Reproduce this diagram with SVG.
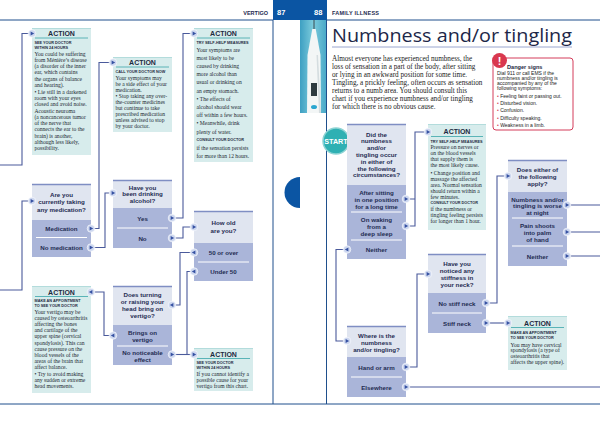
<svg xmlns="http://www.w3.org/2000/svg" width="600" height="427" viewBox="0 0 600 427">
<defs>
<style>
.fr{stroke:#1f4f8c;stroke-width:1;fill:none}
.qh{fill:#e0e5f0}
.op{fill:#aab5d9}
.tb{stroke:#7f8ec3;stroke-width:1.5}
.sp{stroke:#fff;stroke-width:1}
.ab{fill:#d7ecec}
.at{stroke:#b3dcdc;stroke-width:1}
.ul{stroke:#3aa6a9;stroke-width:0.8}
.q{font:bold 6.2px "Liberation Sans",Arial,sans-serif;fill:#1f2c52;text-anchor:middle;dominant-baseline:central}
.ac{font:bold 7px "Liberation Sans",Arial,sans-serif;fill:#1d2a3f;text-anchor:middle;dominant-baseline:central}
.h{font:bold 3.8px "Liberation Sans",Arial,sans-serif;fill:#1d2a3f;dominant-baseline:central}
.b{font:5.6px "Liberation Serif","Times New Roman",serif;fill:#1d2a33;dominant-baseline:central}
.c{fill:none;stroke:#4a5a9b;stroke-width:1.1}
.hd{font:bold 5.5px "Liberation Sans",Arial,sans-serif;fill:#1d2a4f;dominant-baseline:central}
.pn{font:bold 7.5px "Liberation Sans",Arial,sans-serif;fill:#fff;dominant-baseline:central}
.in{font:7.2px "Liberation Serif","Times New Roman",serif;fill:#222}
.dg{font:5px "Liberation Sans",Arial,sans-serif;fill:#222;dominant-baseline:central}
</style>
<linearGradient id="ph" x1="0" y1="0" x2="1" y2="0"><stop offset="0" stop-color="#3d9fc2"/><stop offset="0.5" stop-color="#7ccbdc"/><stop offset="1" stop-color="#4aa9c8"/></linearGradient>
<g id="ar"><circle r="3.8" fill="#cdd7ef" stroke="#fff" stroke-width="0.6"/><path d="M-1.4-2L2.2 0L-1.4 2Z" fill="#3551a2"/></g>
<g id="al"><circle r="3.8" fill="#cdd7ef" stroke="#fff" stroke-width="0.6"/><path d="M1.4-2L-2.2 0L1.4 2Z" fill="#3551a2"/></g>
</defs>
<rect width="600" height="427" fill="#fff"/>

<g id="page-frame">
<line class="fr" x1="0" y1="20" x2="273" y2="20"/>
<line class="fr" x1="327" y1="20" x2="600" y2="20"/>
<rect x="273" y="0" width="54" height="20" fill="#0b55a3"/>
<line class="fr" x1="273" y1="20" x2="273" y2="404"/>
<line class="fr" x1="326.5" y1="20" x2="326.5" y2="404"/>
<line class="fr" x1="0" y1="404" x2="600" y2="404"/>
<path d="M300 177A15.5 15.5 0 0 0 300 208Z" fill="#0b55a3"/>
<text class="hd" x="268" y="13" text-anchor="end">VERTIGO</text>
<text class="pn" x="277" y="12.5">87</text>
<text class="pn" x="314" y="12.5">88</text>
<text class="hd" x="332" y="13" letter-spacing="0.2">FAMILY ILLNESS</text>
</g>

<g id="photo">
<rect x="300" y="20" width="26" height="93" fill="url(#ph)"/>
<line x1="314" y1="20" x2="314" y2="30" stroke="#3a4a50" stroke-width="1"/>
<path d="M312.3 29L315.7 29L320.5 55L321 113L307 113L307.5 55Z" fill="#f3f6f6"/>
<path d="M318 55L321 113L319 113L316.5 55Z" fill="#d5dde0"/>
<rect x="311" y="83" width="6" height="13" fill="#2e3b40"/>
<ellipse cx="314" cy="107" rx="3" ry="2" fill="#2aa6d0"/>
</g>

<g id="intro">
<text x="332" y="42" font-family="'Open Sans','Noto Sans',sans-serif" font-size="17.5" fill="#1d2748" textLength="240" lengthAdjust="spacingAndGlyphs">Numbness and/or tingling</text>
<line x1="332" y1="47" x2="572" y2="47" stroke="#9aa6cf" stroke-width="1"/>
<text class="in"><tspan x="332" y="60.5">Almost everyone has experienced numbness, the</tspan><tspan x="332" y="68.5">loss of sensation in a part of the body, after sitting</tspan><tspan x="332" y="76.5">or lying in an awkward position for some time.</tspan><tspan x="332" y="84.5">Tingling, a prickly feeling, often occurs as sensation</tspan><tspan x="332" y="92.5">returns to a numb area. You should consult this</tspan><tspan x="332" y="100.5">chart if you experience numbness and/or tingling</tspan><tspan x="332" y="108.5">for which there is no obvious cause.</tspan></text>
</g>

<g id="danger-signs">
<rect x="493" y="58" width="80" height="72" rx="3" fill="#fff" stroke="#d43c5a" stroke-width="1"/>
<circle cx="499.5" cy="60.5" r="7.5" fill="#d9384f"/>
<text x="499.5" y="64.5" font-family="'Liberation Sans',Arial,sans-serif" font-weight="bold" font-size="11" fill="#fff" text-anchor="middle">!</text>
<text x="507" y="66.5" font-family="'Liberation Sans',Arial,sans-serif" font-weight="bold" font-size="5.6" fill="#1d2a3f" dominant-baseline="central">Danger signs</text>
<text class="dg"><tspan x="497" y="72.5">Dial 911 or call EMS if the</tspan><tspan x="497" y="77.5">numbness and/or tingling is</tspan><tspan x="497" y="82.5">accompanied by any of the</tspan><tspan x="497" y="87.5">following symptoms:</tspan><tspan x="497" y="96"><tspan fill="#d43c5a">•</tspan> Feeling faint or passing out.</tspan><tspan x="497" y="103.2"><tspan fill="#d43c5a">•</tspan> Disturbed vision.</tspan><tspan x="497" y="110.4"><tspan fill="#d43c5a">•</tspan> Confusion.</tspan><tspan x="497" y="117.6"><tspan fill="#d43c5a">•</tspan> Difficulty speaking.</tspan><tspan x="497" y="124.8"><tspan fill="#d43c5a">•</tspan> Weakness in a limb.</tspan></text>
</g>

<!-- LEFT PAGE -->
<g id="action-meniere">
<rect class="ab" x="32" y="28" width="59" height="127"/>
<line class="at" x1="32" y1="28.5" x2="91" y2="28.5"/>
<text class="ac" x="61.5" y="33.5">ACTION</text>
<line class="ul" x1="35" y1="38" x2="88" y2="38"/>
<text class="h"><tspan x="34.5" y="42.7">SEE YOUR DOCTOR</tspan><tspan x="34.5" y="47.5">WITHIN 24 HOURS</tspan></text>
<text class="b"><tspan x="34.5" y="53.5">You could be suffering</tspan><tspan x="34.5" y="59.8">from Ménière’s disease</tspan><tspan x="34.5" y="66.1">(a disorder of the inner</tspan><tspan x="34.5" y="72.4">ear, which contains</tspan><tspan x="34.5" y="78.7">the organs of balance</tspan><tspan x="34.5" y="85">and hearing).</tspan><tspan x="34.5" y="91.5">• Lie still in a darkened</tspan><tspan x="34.5" y="97.8">room with your eyes</tspan><tspan x="34.5" y="104.1">closed and avoid noise.</tspan><tspan x="34.5" y="110.5">Acoustic neuroma</tspan><tspan x="34.5" y="116.8">(a noncancerous tumor</tspan><tspan x="34.5" y="123.1">of the nerve that</tspan><tspan x="34.5" y="129.4">connects the ear to the</tspan><tspan x="34.5" y="135.7">brain) is another,</tspan><tspan x="34.5" y="142">although less likely,</tspan><tspan x="34.5" y="148.3">possibility.</tspan></text>
</g>

<g id="q-medication">
<rect class="qh" x="32" y="184" width="59" height="36"/>
<rect class="op" x="32" y="220" width="59" height="37"/>
<line class="tb" x1="32" y1="184.5" x2="91" y2="184.5"/>
<line class="sp" x1="36" y1="237.5" x2="87" y2="237.5"/>
<text class="q"><tspan x="61.5" y="193.5">Are you</tspan><tspan x="61.5" y="201">currently taking</tspan><tspan x="61.5" y="208.5">any medication?</tspan></text>
<text class="q" x="61.5" y="228.5">Medication</text>
<text class="q" x="61.5" y="247.5">No medication</text>
</g>

<g id="action-cervical-left">
<rect class="ab" x="32" y="286" width="59" height="107"/>
<line class="at" x1="32" y1="286.5" x2="91" y2="286.5"/>
<text class="ac" x="61.5" y="292">ACTION</text>
<line class="ul" x1="35" y1="296.5" x2="88" y2="296.5"/>
<text class="h"><tspan x="34.5" y="301">MAKE AN APPOINTMENT</tspan><tspan x="34.5" y="306">TO SEE YOUR DOCTOR</tspan></text>
<text class="b"><tspan x="34.5" y="312">Your vertigo may be</tspan><tspan x="34.5" y="318.1">caused by osteoarthritis</tspan><tspan x="34.5" y="324.2">affecting the bones</tspan><tspan x="34.5" y="330.3">and cartilage of the</tspan><tspan x="34.5" y="336.4">upper spine (cervical</tspan><tspan x="34.5" y="342.5">spondylosis). This can</tspan><tspan x="34.5" y="348.6">cause pressure on the</tspan><tspan x="34.5" y="354.7">blood vessels of the</tspan><tspan x="34.5" y="360.8">areas of the brain that</tspan><tspan x="34.5" y="366.9">affect balance.</tspan><tspan x="34.5" y="373.5">• Try to avoid making</tspan><tspan x="34.5" y="379.6">any sudden or extreme</tspan><tspan x="34.5" y="385.7">head movements.</tspan></text>
</g>

<g id="action-medication">
<rect class="ab" x="113" y="57" width="59" height="75"/>
<line class="at" x1="113" y1="57.5" x2="172" y2="57.5"/>
<text class="ac" x="142.5" y="62.5">ACTION</text>
<line class="ul" x1="116" y1="67" x2="169" y2="67"/>
<text class="h"><tspan x="115.5" y="72">CALL YOUR DOCTOR NOW</tspan></text>
<text class="b"><tspan x="115.5" y="78">Your symptoms may</tspan><tspan x="115.5" y="83.9">be a side effect of your</tspan><tspan x="115.5" y="89.8">medication.</tspan><tspan x="115.5" y="96.2">• Stop taking any over-</tspan><tspan x="115.5" y="102.1">the-counter medicines</tspan><tspan x="115.5" y="108">but continue to take</tspan><tspan x="115.5" y="113.9">prescribed medication</tspan><tspan x="115.5" y="119.8">unless advised to stop</tspan><tspan x="115.5" y="125.7">by your doctor.</tspan></text>
</g>

<g id="q-alcohol">
<rect class="qh" x="113" y="180" width="59" height="28"/>
<rect class="op" x="113" y="208" width="59" height="40"/>
<line class="tb" x1="113" y1="180.5" x2="172" y2="180.5"/>
<line class="sp" x1="117" y1="228" x2="168" y2="228"/>
<text class="q"><tspan x="142.5" y="186.5">Have you</tspan><tspan x="142.5" y="193">been drinking</tspan><tspan x="142.5" y="199.5">alcohol?</tspan></text>
<text class="q" x="142.5" y="218">Yes</text>
<text class="q" x="142.5" y="238">No</text>
</g>

<g id="q-head">
<rect class="qh" x="113" y="286" width="59" height="39"/>
<rect class="op" x="113" y="325" width="59" height="40"/>
<line class="tb" x1="113" y1="286.5" x2="172" y2="286.5"/>
<line class="sp" x1="117" y1="346" x2="168" y2="346"/>
<text class="q"><tspan x="142.5" y="294">Does turning</tspan><tspan x="142.5" y="301">or raising your</tspan><tspan x="142.5" y="308">head bring on</tspan><tspan x="142.5" y="315">vertigo?</tspan></text>
<text class="q"><tspan x="142.5" y="332">Brings on</tspan><tspan x="142.5" y="339">vertigo</tspan></text>
<text class="q"><tspan x="142.5" y="352">No noticeable</tspan><tspan x="142.5" y="359">effect</tspan></text>
</g>

<g id="action-alcohol">
<rect class="ab" x="194" y="28" width="59" height="134"/>
<line class="at" x1="194" y1="28.5" x2="253" y2="28.5"/>
<text class="ac" x="223.5" y="33.5">ACTION</text>
<line class="ul" x1="197" y1="38" x2="250" y2="38"/>
<text class="h"><tspan x="196.5" y="43">TRY SELF-HELP MEASURES</tspan><tspan x="196.5" y="139.7">CONSULT YOUR DOCTOR</tspan></text>
<text class="b"><tspan x="196.5" y="49.5">Your symptoms are</tspan><tspan x="196.5" y="57.7">most likely to be</tspan><tspan x="196.5" y="65.9">caused by drinking</tspan><tspan x="196.5" y="74.1">more alcohol than</tspan><tspan x="196.5" y="82.3">usual or drinking on</tspan><tspan x="196.5" y="90.5">an empty stomach.</tspan><tspan x="196.5" y="98.7">• The effects of</tspan><tspan x="196.5" y="106.9">alcohol should wear</tspan><tspan x="196.5" y="115.1">off within a few hours.</tspan><tspan x="196.5" y="123.3">• Meanwhile, drink</tspan><tspan x="196.5" y="131.5">plenty of water.</tspan><tspan x="196.5" y="147.9">if the sensation persists</tspan><tspan x="196.5" y="156.1">for more than 12 hours.</tspan></text>
</g>

<g id="q-age">
<rect class="qh" x="194" y="211" width="59" height="32"/>
<rect class="op" x="194" y="243" width="59" height="38"/>
<line class="tb" x1="194" y1="211.5" x2="253" y2="211.5"/>
<line class="sp" x1="198" y1="262" x2="249" y2="262"/>
<text class="q"><tspan x="223.5" y="222">How old</tspan><tspan x="223.5" y="230">are you?</tspan></text>
<text class="q" x="223.5" y="252.5">50 or over</text>
<text class="q" x="223.5" y="271.5">Under 50</text>
</g>

<g id="action-see-doctor">
<rect class="ab" x="194" y="348" width="59" height="43"/>
<line class="at" x1="194" y1="348.5" x2="253" y2="348.5"/>
<text class="ac" x="223.5" y="354">ACTION</text>
<line class="ul" x1="197" y1="358.5" x2="250" y2="358.5"/>
<text class="h"><tspan x="196.5" y="363">SEE YOUR DOCTOR</tspan><tspan x="196.5" y="368">WITHIN 24 HOURS</tspan></text>
<text class="b"><tspan x="196.5" y="373.5">If you cannot identify a</tspan><tspan x="196.5" y="379.5">possible cause for your</tspan><tspan x="196.5" y="385.5">vertigo from this chart.</tspan></text>
</g>

<!-- RIGHT PAGE -->
<g id="start">
<circle cx="336" cy="141" r="13" fill="#2fb0b3" stroke="#8dd3d4" stroke-width="1.5"/>
<text x="336" y="141.3" font-family="'Liberation Sans',Arial,sans-serif" font-weight="bold" font-size="7.2" fill="#fff" text-anchor="middle" dominant-baseline="central">START</text>
</g>

<g id="q-circumstances">
<rect class="qh" x="347" y="124" width="59" height="61"/>
<rect class="op" x="347" y="185" width="59" height="74"/>
<line class="tb" x1="347" y1="124.5" x2="406" y2="124.5"/>
<line class="sp" x1="351" y1="212" x2="402" y2="212"/>
<line class="sp" x1="351" y1="240" x2="402" y2="240"/>
<text class="q"><tspan x="376.5" y="133.5">Did the</tspan><tspan x="376.5" y="140.3">numbness</tspan><tspan x="376.5" y="147.1">and/or</tspan><tspan x="376.5" y="153.9">tingling occur</tspan><tspan x="376.5" y="160.7">in either of</tspan><tspan x="376.5" y="167.5">the following</tspan><tspan x="376.5" y="174.3">circumstances?</tspan></text>
<text class="q"><tspan x="376.5" y="192">After sitting</tspan><tspan x="376.5" y="199">in one position</tspan><tspan x="376.5" y="206">for a long time</tspan></text>
<text class="q"><tspan x="376.5" y="219">On waking</tspan><tspan x="376.5" y="226">from a</tspan><tspan x="376.5" y="233">deep sleep</tspan></text>
<text class="q" x="376.5" y="249.5">Neither</text>
</g>

<g id="action-pressure">
<rect class="ab" x="428" y="124" width="58" height="106"/>
<line class="at" x1="428" y1="124.5" x2="486" y2="124.5"/>
<text class="ac" x="457" y="131.5">ACTION</text>
<line class="ul" x1="431" y1="136.5" x2="483" y2="136.5"/>
<text class="h"><tspan x="430.5" y="141.5">TRY SELF-HELP MEASURES</tspan><tspan x="430.5" y="203.3">CONSULT YOUR DOCTOR</tspan></text>
<text class="b"><tspan x="430.5" y="147.3">Pressure on nerves or</tspan><tspan x="430.5" y="153.3">on the blood vessels</tspan><tspan x="430.5" y="159.3">that supply them is</tspan><tspan x="430.5" y="165.3">the most likely cause.</tspan><tspan x="430.5" y="172.5">• Change position and</tspan><tspan x="430.5" y="178.5">massage the affected</tspan><tspan x="430.5" y="184.5">area. Normal sensation</tspan><tspan x="430.5" y="190.5">should return within a</tspan><tspan x="430.5" y="196.5">few minutes.</tspan><tspan x="430.5" y="209.3">if the numbness or</tspan><tspan x="430.5" y="215.3">tingling feeling persists</tspan><tspan x="430.5" y="221.3">for longer than 1 hour.</tspan></text>
</g>

<g id="q-either">
<rect class="qh" x="508" y="160" width="59" height="32"/>
<rect class="op" x="508" y="192" width="59" height="74"/>
<line class="tb" x1="508" y1="160.5" x2="567" y2="160.5"/>
<line class="sp" x1="512" y1="218" x2="563" y2="218"/>
<line class="sp" x1="512" y1="246" x2="563" y2="246"/>
<text class="q"><tspan x="537.5" y="169">Does either of</tspan><tspan x="537.5" y="176">the following</tspan><tspan x="537.5" y="183">apply?</tspan></text>
<text class="q"><tspan x="537.5" y="198.5">Numbness and/or</tspan><tspan x="537.5" y="205">tingling is worse</tspan><tspan x="537.5" y="211.5">at night</tspan></text>
<text class="q"><tspan x="537.5" y="225">Pain shoots</tspan><tspan x="537.5" y="232">into palm</tspan><tspan x="537.5" y="238.5">of hand</tspan></text>
<text class="q" x="537.5" y="256">Neither</text>
</g>

<g id="q-stiffness">
<rect class="qh" x="428" y="254" width="58" height="39"/>
<rect class="op" x="428" y="293" width="58" height="40"/>
<line class="tb" x1="428" y1="254.5" x2="486" y2="254.5"/>
<line class="sp" x1="432" y1="313" x2="482" y2="313"/>
<text class="q"><tspan x="457" y="263">Have you</tspan><tspan x="457" y="270">noticed any</tspan><tspan x="457" y="277">stiffness in</tspan><tspan x="457" y="284">your neck?</tspan></text>
<text class="q" x="457" y="303">No stiff neck</text>
<text class="q" x="457" y="323">Stiff neck</text>
</g>

<g id="action-cervical-right">
<rect class="ab" x="508" y="316" width="59" height="54"/>
<line class="at" x1="508" y1="316.5" x2="567" y2="316.5"/>
<text class="ac" x="537.5" y="323">ACTION</text>
<line class="ul" x1="511" y1="327.5" x2="564" y2="327.5"/>
<text class="h"><tspan x="510.5" y="333">MAKE AN APPOINTMENT</tspan><tspan x="510.5" y="338">TO SEE YOUR DOCTOR</tspan></text>
<text class="b"><tspan x="510.5" y="344.5">You may have cervical</tspan><tspan x="510.5" y="350.4">spondylosis (a type of</tspan><tspan x="510.5" y="356.3">osteoarthritis that</tspan><tspan x="510.5" y="362.2">affects the upper spine).</tspan></text>
</g>

<g id="q-where">
<rect class="qh" x="347" y="326" width="59" height="31"/>
<rect class="op" x="347" y="357" width="59" height="40"/>
<line class="tb" x1="347" y1="326.5" x2="406" y2="326.5"/>
<line class="sp" x1="351" y1="377" x2="402" y2="377"/>
<text class="q"><tspan x="376.5" y="335">Where is the</tspan><tspan x="376.5" y="342">numbness</tspan><tspan x="376.5" y="349">and/or tingling?</tspan></text>
<text class="q" x="376.5" y="367">Hand or arm</text>
<text class="q" x="376.5" y="387">Elsewhere</text>
</g>

<g id="connectors">
<path class="c" d="M0 165H22V33.5H32"/>
<path class="c" d="M0 290H22V201H32"/>
<path class="c" d="M91 228.5H99V62.5H113"/>
<path class="c" d="M91 247.5H105V193H113"/>
<path class="c" d="M172 218H183V33.5H194"/>
<path class="c" d="M172 238H183V227H194"/>
<path class="c" d="M194 252.5H180V305H172"/>
<path class="c" d="M194 271.5H187V354.5H194"/>
<path class="c" d="M172 354.5H194"/>
<path class="c" d="M113 335.5H104V292H91"/>
<path class="c" d="M406 199H415M406 226H415V132H428"/>
<path class="c" d="M347 249.5H336V341H347"/>
<path class="c" d="M406 367H417V274H428"/>
<path class="c" d="M486 303H497V176H508"/>
<path class="c" d="M486 323H508"/>
<path class="c" d="M406 387H600"/>
<path class="c" d="M567 205H600M567 232H600M567 256H600"/>
<use href="#ar" x="32" y="33.5"/>
<use href="#ar" x="32" y="201"/>
<use href="#ar" x="113" y="62.5"/>
<use href="#ar" x="113" y="193"/>
<use href="#ar" x="194" y="33.5"/>
<use href="#ar" x="194" y="227"/>
<use href="#ar" x="194" y="354.5"/>
<use href="#ar" x="428" y="132"/>
<use href="#ar" x="347" y="341"/>
<use href="#ar" x="428" y="274"/>
<use href="#ar" x="508" y="176"/>
<use href="#ar" x="508" y="323"/>
<use href="#ar" x="91" y="228.5"/>
<use href="#ar" x="91" y="247.5"/>
<use href="#ar" x="172" y="218"/>
<use href="#ar" x="172" y="238"/>
<use href="#ar" x="172" y="354.5"/>
<use href="#ar" x="406" y="199"/>
<use href="#ar" x="406" y="226"/>
<use href="#ar" x="406" y="367"/>
<use href="#ar" x="406" y="387"/>
<use href="#ar" x="486" y="303"/>
<use href="#ar" x="486" y="323"/>
<use href="#ar" x="567" y="205"/>
<use href="#ar" x="567" y="232"/>
<use href="#ar" x="567" y="256"/>
<use href="#al" x="194" y="252.5"/>
<use href="#al" x="194" y="271.5"/>
<use href="#al" x="113" y="335.5"/>
<use href="#al" x="347" y="249.5"/>
<use href="#al" x="172" y="305"/>
<use href="#al" x="91" y="292"/>
</g>
</svg>
